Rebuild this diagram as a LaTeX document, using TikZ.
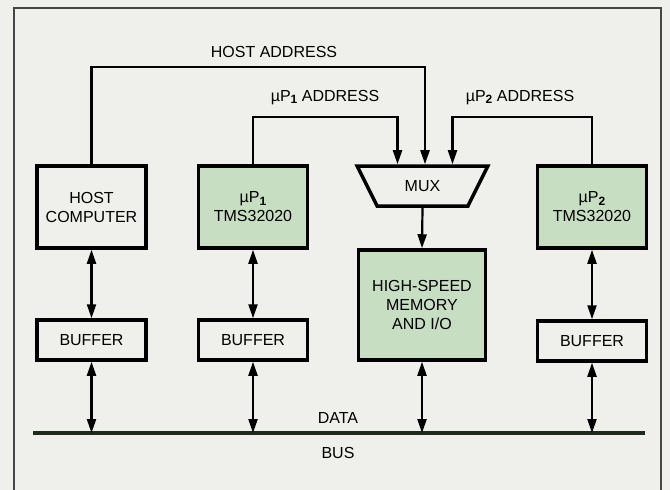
\documentclass[tikz,border=0pt]{standalone}
\usepackage{fontspec}
\setmainfont{Liberation Sans}
\usetikzlibrary{arrows.meta,positioning,shapes.geometric,calc}
\definecolor{bgpaper}{RGB}{239,239,235}
\definecolor{chipgreen}{RGB}{200,222,194}
\definecolor{busdark}{RGB}{30,42,30}
\definecolor{framegray}{RGB}{70,70,70}
\newcommand{\psub}[1]{\raisebox{-0.3ex}{\fontsize{12}{12}\selectfont\bfseries #1}}

\begin{document}
\begin{tikzpicture}[x=1pt,y=-1pt,
  blk/.style={draw,line width=3.5pt,minimum width=109pt,minimum height=82pt,
    font=\fontsize{16}{19}\selectfont,align=center,inner sep=0pt},
  buf/.style={blk,fill=bgpaper,minimum height=40pt},
  lbl/.style={font=\fontsize{16}{19}\selectfont,inner sep=0pt,anchor=base},
  arr/.style={-{Triangle[length=14pt,width=9pt]},line width=2.2pt},
  darr/.style={{Triangle[length=14pt,width=9pt]}-{Triangle[length=14pt,width=9pt]},line width=2.2pt}
]
  \fill[bgpaper] (0,0) rectangle (670,490);
  \useasboundingbox (0,0) rectangle (670,490);
  \draw[framegray,line width=1.3pt] (14,490) -- (14,8) -- (661,8) -- (661,490);

  % Processors and shared memory
  \node[blk,fill=bgpaper] (host) at (91.5,207) {HOST\\COMPUTER};
  \node[blk,fill=chipgreen] (up1) at (253,207) {µP\psub{1}\\TMS32020};
  \node[blk,fill=chipgreen] (up2) at (592,207) {µP\psub{2}\\TMS32020};
  \node[trapezium,trapezium angle=55,trapezium stretches=true,shape border rotate=180,
    draw,line width=3.5pt,fill=bgpaper,minimum width=131pt,minimum height=40pt,
    inner sep=0pt,font=\fontsize{16}{19}\selectfont] (mux) at (422.5,186) {MUX};
  \node[blk,fill=chipgreen,minimum width=127pt,minimum height=110pt] (mem) at (422,305)
    {HIGH-SPEED\\MEMORY\\AND I/O};
  \node[buf] (buf0) at (91.5,340) {BUFFER};
  \node[buf] (buf1) at (253,340) {BUFFER};
  \node[buf] (buf2) at (592,341) {BUFFER};

  % Data bus
  \coordinate (busL) at (33,433);
  \coordinate (busR) at (645,433);
  \draw[busdark,line width=4pt] (busL) -- (busR);
  \node[lbl] (data) at (338,423) {DATA};
  \node[lbl] (bus) at (338,458) {BUS};

  \draw[darr] (host.south) -- (buf0.north);
  \draw[darr] (up1.south) -- (buf1.north);
  \draw[darr] (up2.south) -- (buf2.north);
  \draw[darr] (buf0.south) -- (buf0.south |- busL);
  \draw[darr] (buf1.south) -- (buf1.south |- busL);
  \draw[darr] (buf2.south) -- (buf2.south |- busL);
  \draw[darr] (mem.south) -- (mem.south |- busL);
  \draw[arr] (mux.south) -- (mem.north);

  % Address lines
  \draw[arr] (host.north) -- ++(0,-97) -| ([xshift=2.5pt]mux.north);
  \draw[arr] (up1.north) -- ++(0,-47) -| ([xshift=-25pt]mux.north);
  \draw[arr] (up2.north) -- ++(0,-47) -| ([xshift=30pt]mux.north);
  \node[lbl] (hostaddr) at (274,57) {HOST ADDRESS};
  \node[lbl] (addr1) at (325,101) {µP\psub{1} ADDRESS};
  \node[lbl] (addr2) at (520,101) {µP\psub{2} ADDRESS};
\end{tikzpicture}
\end{document}
